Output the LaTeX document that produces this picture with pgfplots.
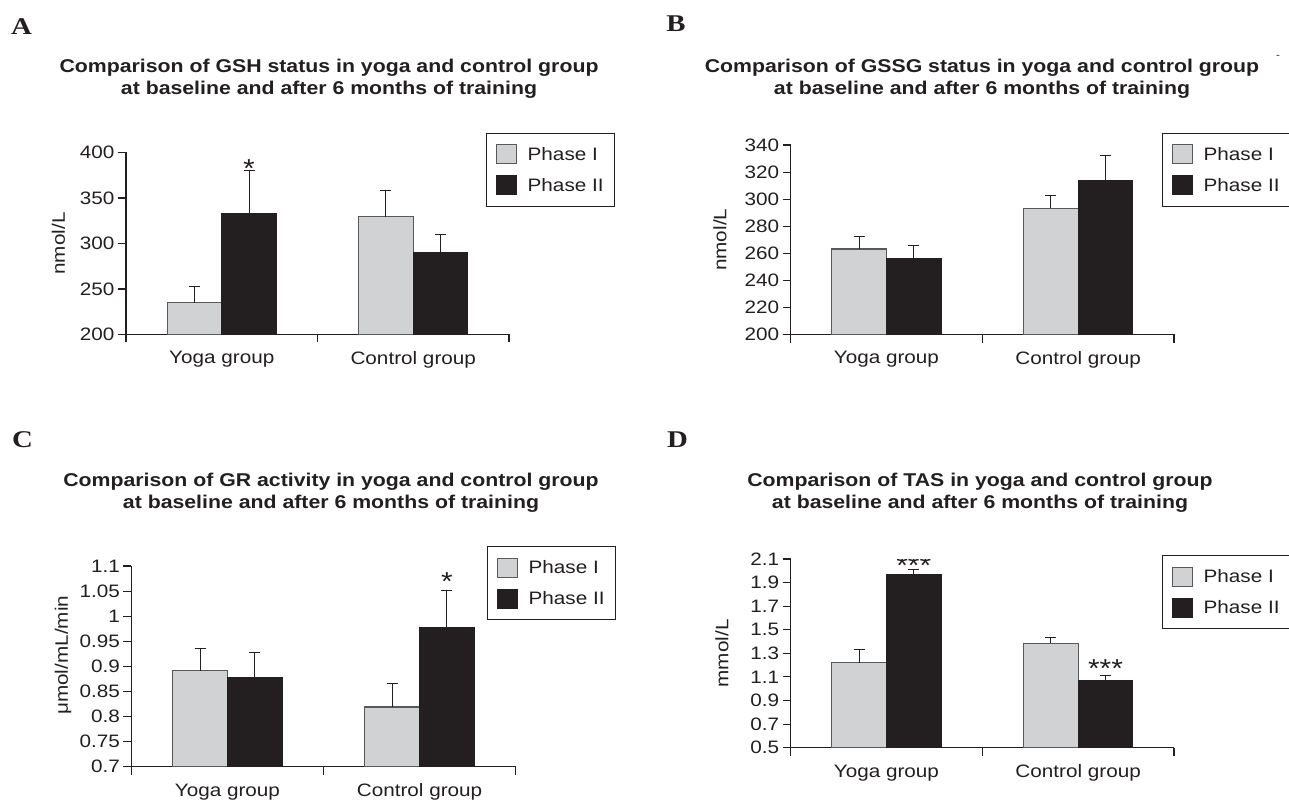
\documentclass[border=0pt]{standalone}
\usepackage{fontspec}
\setmainfont{Liberation Sans}[FakeStretch=1.15]
\newfontfamily\panelfont{Liberation Serif}[FakeStretch=1.2]
\usepackage{pgfplots}
\pgfplotsset{compat=1.18}
\definecolor{barlight}{HTML}{D1D2D4}
\definecolor{bardark}{HTML}{231F20}
\definecolor{edgegray}{HTML}{58595B}
\definecolor{inkc}{HTML}{231F20}
\pgfplotsset{
  panel/.style={
    scale only axis,
    anchor=south west,
    axis x line*=bottom, axis y line*=left,
    axis line style={-, draw=inkc, line width=1.3pt},
    xmin=-0.5, xmax=1.5, enlargelimits=false,
    xtick={-0.5,0.5,1.5}, xticklabels={,,},
    extra x ticks={0,1}, extra x tick labels={Yoga group, Control group},
    extra x tick style={major tick length=0pt, tick style={draw=none}},
    tick align=outside, major tick length=8pt,
    tick style={draw=inkc, line width=1.1pt},
    ticklabel style={font=\fontsize{18}{18}\selectfont, text=inkc},
    xticklabel style={yshift=-13.5pt},
    /pgf/number format/assume math mode=true,
    label style={font=\fontsize{18}{18}\selectfont, text=inkc},
    ylabel style={at={(axis description cs:0,0.5)}, anchor=center, yshift=68pt},
    legend style={draw=inkc, line width=1.1pt, anchor=north west,
      font=\fontsize{18}{18}\selectfont, inner xsep=9pt, inner ysep=11pt, row sep=11pt,
      text=inkc, /tikz/every odd column/.append style={column sep=9pt}},
    legend cell align=left,
  },
  ebar/.style={error bars/y dir=plus, error bars/y explicit, error bars/error mark=-,
    error bars/error bar style={draw=inkc, line width=1pt},
    error bars/error mark options={draw=inkc, mark size=5.5pt, line width=1pt, rotate=90}},
  lightbar/.style={ybar, bar width=0.285, bar shift=0pt, fill=barlight, draw=edgegray, line width=1.1pt,
    ebar,
    legend image code/.code={\draw[fill=barlight, draw=edgegray, line width=1.1pt] (0pt,-9.5pt) rectangle (20pt,9.5pt);}},
  darkbar/.style={ybar, bar width=0.285, bar shift=0pt, fill=bardark, draw=bardark, line width=1.1pt,
    ebar,
    legend image code/.code={\draw[fill=bardark, draw=bardark, line width=1.1pt] (0pt,-9.5pt) rectangle (20pt,9.5pt);}},
}
\begin{document}
\begin{tikzpicture}[x=1pt,y=1pt]
\useasboundingbox (0,0) rectangle (1289,804);
\clip (0,0) rectangle (1289,804);
\tikzset{ttl/.style={align=center, text=inkc, font=\bfseries\fontsize{18.5}{21.6}\selectfont},
  plab/.style={text=inkc, font=\panelfont\bfseries\fontsize{24}{24}\selectfont},
  star/.style={text=inkc, font=\fontsize{26}{26}\selectfont, yshift=-6pt}}
% panel letters and titles
\node[plab] at (21.5,777.5) {A};
\node[plab] at (676,780) {B};
\node[plab] at (22.5,364) {C};
\node[plab] at (677.5,364) {D};
\node[ttl] at (329,725) {Comparison of GSH status in yoga and control group\\at baseline and after 6 months of training};
\node[ttl] at (982,725.5) {Comparison of GSSG status in yoga and control group\\at baseline and after 6 months of training};
\node[ttl] at (331,311.5) {Comparison of GR activity in yoga and control group\\at baseline and after 6 months of training};
\node[ttl] at (980,311.5) {Comparison of TAS in yoga and control group\\at baseline and after 6 months of training};
\node[text=inkc, font=\fontsize{10}{10}\selectfont] at (1278,747) {-};
% A
\begin{axis}[panel, at={(126pt,469.5pt)}, width=383pt, height=182pt,
  ymin=200, ymax=400, ytick={200,250,300,350,400}, ylabel={nmol/L},
  ylabel style={yshift=-0.5pt},
  legend style={at={(rel axis cs:0.940,1.109)}}]
\addplot[lightbar] coordinates {(-0.1425,235.0) +- (0,17.9) (0.8575,329.2) +- (0,29.5)};
\addplot[darkbar] coordinates {(0.1425,332.5) +- (0,47.7) (1.1425,289.6) +- (0,20.2)};
\legend{Phase I, Phase II}
\node[star] at (axis cs:0.1425,389) {*};
\end{axis}
% B
\begin{axis}[panel, at={(790.6pt,469.5pt)}, width=383.4pt, height=189.5pt,
  ymin=200, ymax=340, ytick={200,220,240,260,280,300,320,340}, ylabel={nmol/L},
  ylabel style={yshift=2.6pt},
  legend style={at={(rel axis cs:0.9687,1.065)}}]
\addplot[lightbar] coordinates {(-0.1425,263.2) +- (0,9.4) (0.8575,293.3) +- (0,9.5)};
\addplot[darkbar] coordinates {(0.1425,255.8) +- (0,9.9) (1.1425,313.8) +- (0,18.8)};
\legend{Phase I, Phase II}
\end{axis}
% C
\begin{axis}[panel, at={(131.4pt,37.3pt)}, width=384.2pt, height=200.7pt,
  ymin=0.7, ymax=1.1, ytick={0.7,0.75,0.8,0.85,0.9,0.95,1,1.05,1.1},
  yticklabels={0.7,0.75,0.8,0.85,0.9,0.95,1,1.05,1.1},
  ylabel={μmol/mL/min}, ylabel style={at={(axis description cs:0,0.555)}, yshift=0.4pt},
  legend style={at={(rel axis cs:0.9255,1.0997)}}]
\addplot[lightbar] coordinates {(-0.1425,0.891) +- (0,0.044) (0.8575,0.819) +- (0,0.046)};
\addplot[darkbar] coordinates {(0.1425,0.877) +- (0,0.050) (1.1425,0.978) +- (0,0.073)};
\legend{Phase I, Phase II}
\node[star] at (axis cs:1.1425,1.08) {*};
\end{axis}
% D
\begin{axis}[panel, at={(790.6pt,56.3pt)}, width=383.4pt, height=188.7pt,
  ymin=0.5, ymax=2.1, ytick={0.5,0.7,0.9,1.1,1.3,1.5,1.7,1.9,2.1},
  yticklabels={0.5,0.7,0.9,1.1,1.3,1.5,1.7,1.9,2.1}, ylabel={mmol/L},
  ylabel style={yshift=0.6pt},
  legend style={at={(rel axis cs:0.9687,1.021)}}]
\addplot[lightbar] coordinates {(-0.1425,1.221) +- (0,0.110) (0.8575,1.385) +- (0,0.048)};
\addplot[darkbar] coordinates {(0.1425,1.970) +- (0,0.037) (1.1425,1.068) +- (0,0.048)};
\legend{Phase I, Phase II}
\node[star] at (axis cs:0.1425,2.095) {***};
\node[star] at (axis cs:1.1425,1.22) {***};
\end{axis}
\end{tikzpicture}
\end{document}
